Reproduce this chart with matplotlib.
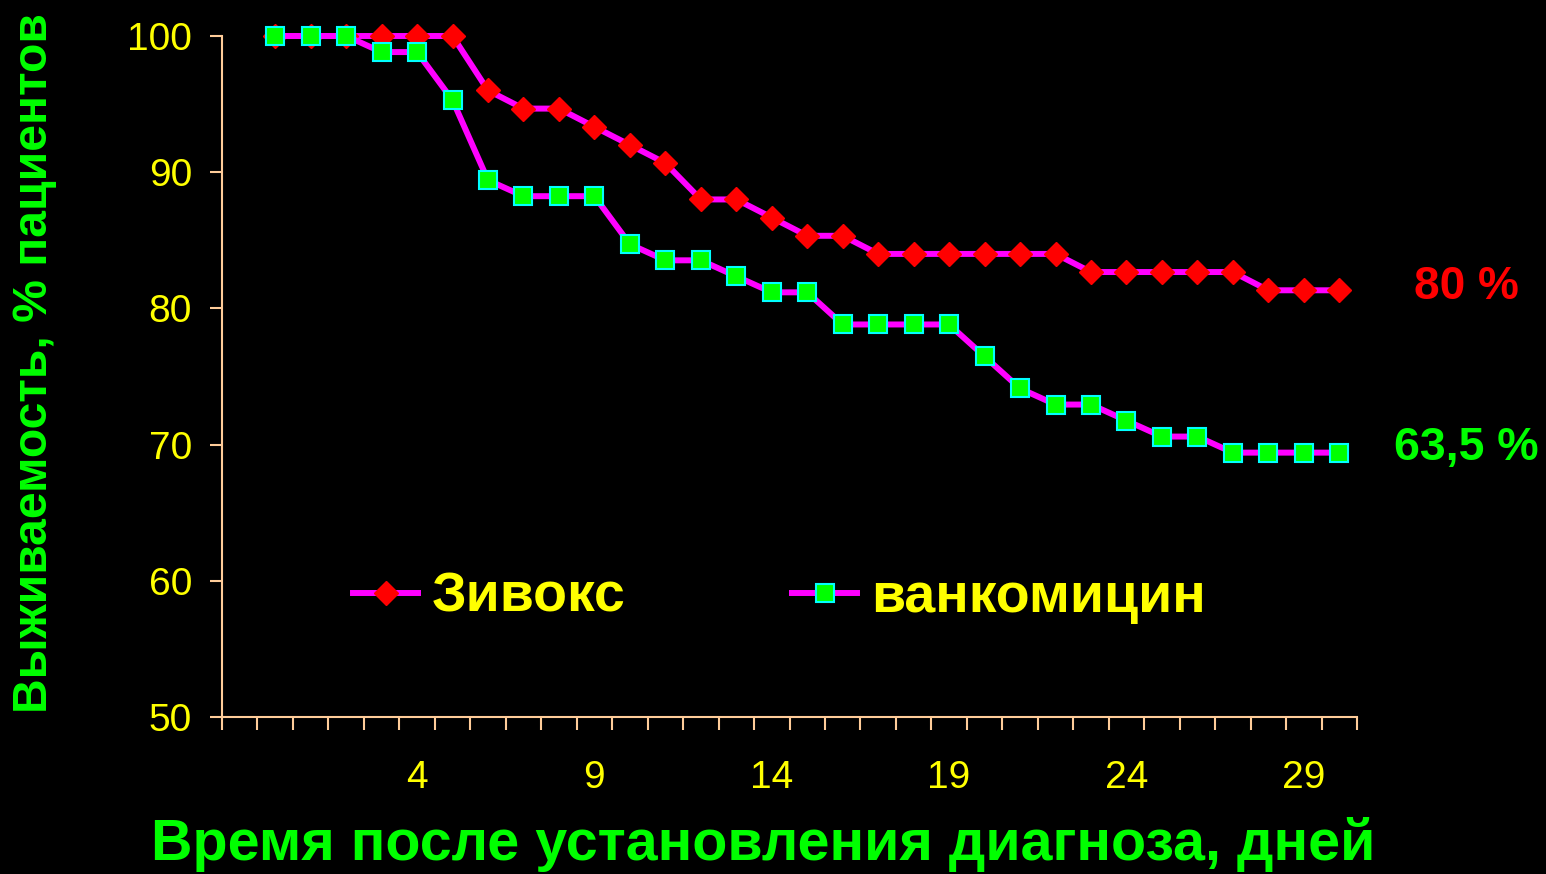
import matplotlib
matplotlib.use("Agg")
import matplotlib.pyplot as plt
from matplotlib.ticker import FixedLocator, NullFormatter

plt.rcParams["font.family"] = ["Liberation Sans", "DejaVu Sans"]

# survival curves, % of patients alive by day
days = list(range(0, 31))
zyvox = [100, 100, 100, 100, 100, 100, 96.0, 94.67, 94.67, 93.33, 92.0, 90.67,
         88.0, 88.0, 86.67, 85.33, 85.33, 84.0, 84.0, 84.0, 84.0, 84.0, 84.0,
         82.67, 82.67, 82.67, 82.67, 82.67, 81.33, 81.33, 81.33]
vanco = [100, 100, 100, 98.82, 98.82, 95.29, 89.41, 88.24, 88.24, 88.24, 84.71,
         83.53, 83.53, 82.35, 81.18, 81.18, 78.82, 78.82, 78.82, 78.82, 76.47,
         74.12, 72.94, 72.94, 71.76, 70.59, 70.59, 69.41, 69.41, 69.41, 69.41]
series_names = ["Зивокс", "ванкомицин"]
final_labels = ["80 %", "63,5 %"]
x_ticks = [4, 9, 14, 19, 24, 29]
y_ticks = [50, 60, 70, 80, 90, 100]

axis_col = "#FFCC99"
yellow = "#FFFF00"
green = "#00FF00"

fig = plt.figure(figsize=(15.46, 8.74), dpi=100, facecolor="black")
ax = fig.add_axes([222 / 1546, 1 - 717 / 874, 1135 / 1546, 681 / 874])
ax.set_facecolor("black")

ax.plot(days, zyvox, color="#FF00FF", lw=4.3, marker="D", ms=12.7,
        mfc="#FF0000", mec="#FF0000", clip_on=False, zorder=3,
        label=series_names[0])
ax.plot(days, vanco, color="#FF00FF", lw=4.3, marker="s", ms=13,
        mfc="#00FF00", mec="#00FFFF", mew=1.5, clip_on=False, zorder=4,
        label=series_names[1])

ax.set_xlim(-1.5, 30.5)
ax.set_ylim(50, 100)

for side in ["top", "right"]:
    ax.spines[side].set_visible(False)
for side in ["left", "bottom"]:
    ax.spines[side].set_color(axis_col)
    ax.spines[side].set_linewidth(1.5)

ax.set_xticks(x_ticks)
ax.set_xticklabels([str(t) for t in x_ticks])
ax.xaxis.set_minor_locator(FixedLocator([-1.5 + k for k in range(33)]))
ax.xaxis.set_minor_formatter(NullFormatter())
ax.tick_params(axis="x", which="major", length=0, pad=31, labelsize=28,
               labelcolor=yellow)
ax.tick_params(axis="x", which="minor", length=9.4, width=1.5,
               color=axis_col, direction="out")

ax.set_yticks(y_ticks)
ax.tick_params(axis="y", which="major", length=8.6, width=1.5, color=axis_col,
               pad=13, labelsize=28, labelcolor=yellow)

fig.text(35 / 1546, 1 - 363 / 874, "Выживаемость, % пациентов", rotation=90,
         ha="center", va="center", color=green, fontsize=34.6, fontweight="bold")
fig.text(763 / 1546, 1 - 845 / 874, "Время после установления диагноза, дней",
         ha="center", va="center", color=green, fontsize=41.3, fontweight="bold")

ax.annotate(final_labels[0], xy=(days[-1], zyvox[-1]), xytext=(1466 / 1546, 1 - 287 / 874),
            textcoords="figure fraction", ha="center", va="center",
            color="#FF0000", fontsize=33, fontweight="bold")
ax.annotate(final_labels[1], xy=(days[-1], vanco[-1]), xytext=(1466 / 1546, 1 - 448 / 874),
            textcoords="figure fraction", ha="center", va="center",
            color=green, fontsize=33.5, fontweight="bold")

leg = ax.legend(loc="center left", bbox_to_anchor=(353 / 1546, 1 - 598 / 874),
                bbox_transform=fig.transFigure, ncol=2, frameon=False,
                borderpad=0, borderaxespad=0, numpoints=1, handlelength=1.17,
                handletextpad=0.25, columnspacing=3.0,
                prop={"size": 40, "weight": "bold"})
for txt in leg.get_texts():
    txt.set_color(yellow)

fig.savefig("out.png", dpi=100, facecolor="black")
